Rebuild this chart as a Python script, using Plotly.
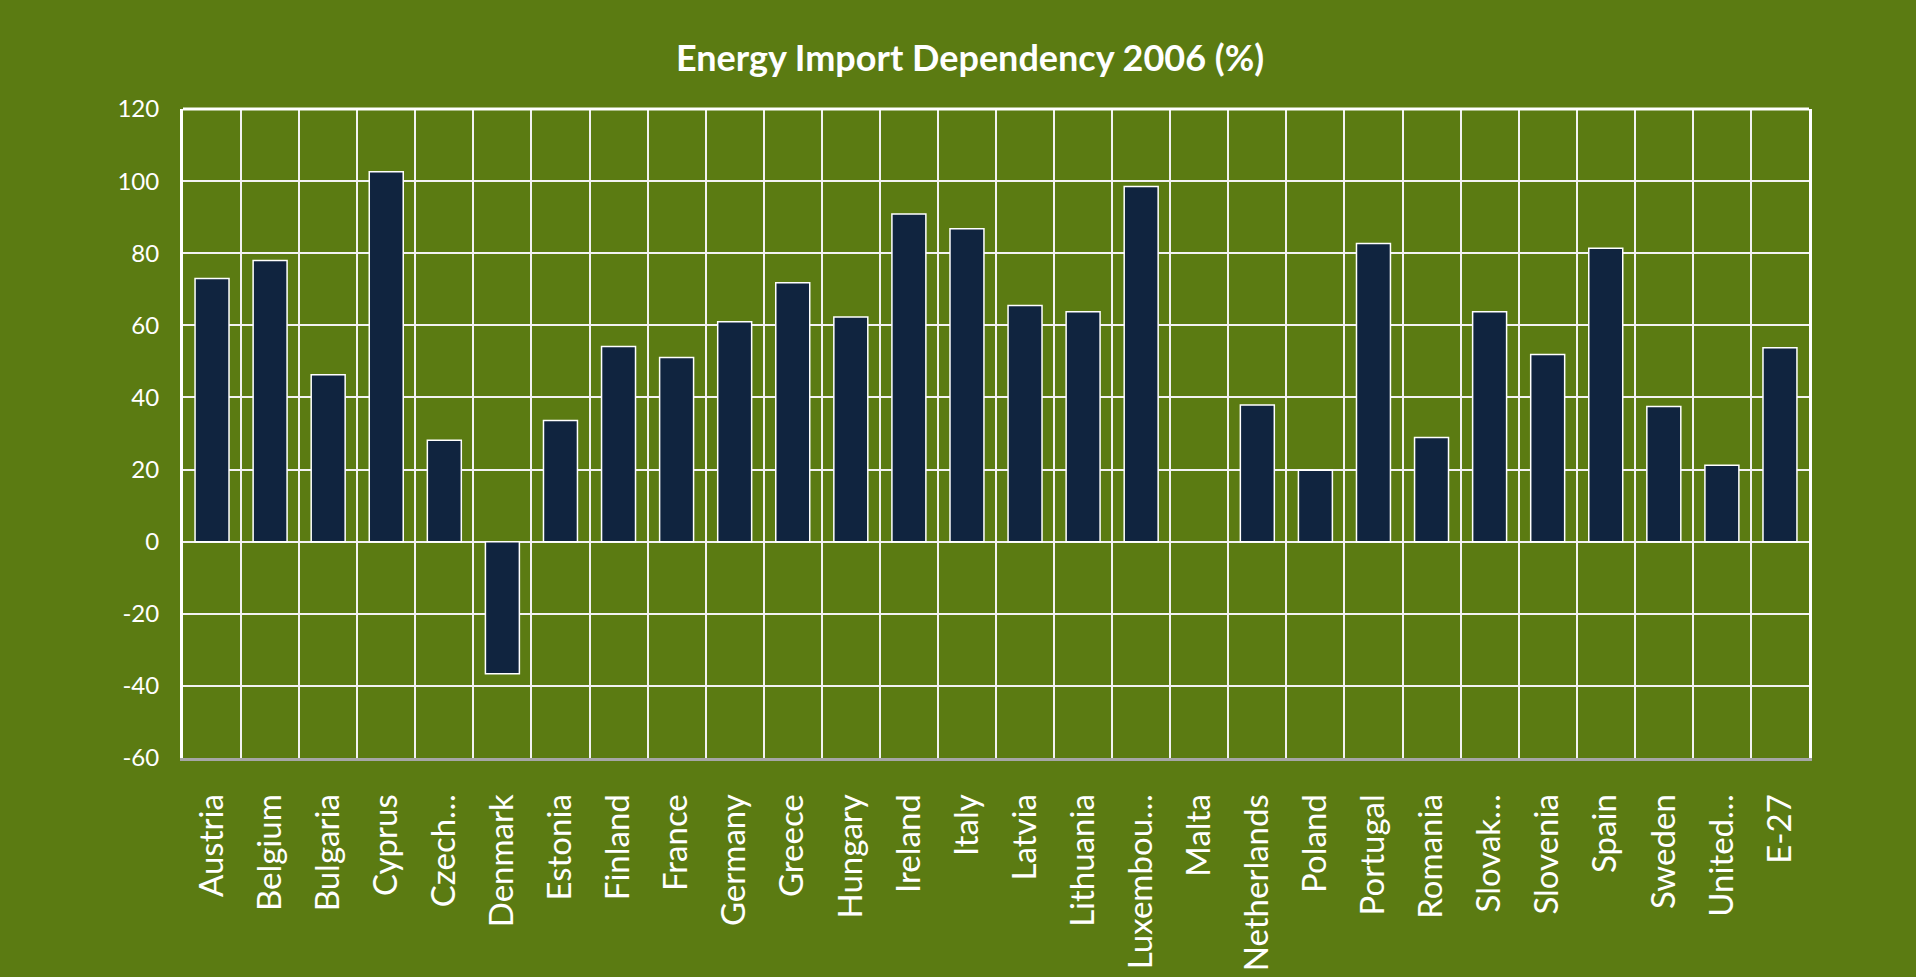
import plotly.graph_objects as go

countries = ["Austria", "Belgium", "Bulgaria", "Cyprus", "Czech…", "Denmark", "Estonia",
             "Finland", "France", "Germany", "Greece", "Hungary", "Ireland", "Italy",
             "Latvia", "Lithuania", "Luxembou…", "Malta", "Netherlands", "Poland",
             "Portugal", "Romania", "Slovak…", "Slovenia", "Spain", "Sweden",
             "United…", "E-27"]
dependency = [73.0, 78.0, 46.3, 102.6, 28.1, -36.6, 33.6,
              54.1, 51.1, 61.0, 71.8, 62.3, 90.9, 86.8,
              65.5, 63.8, 98.5, None, 37.9, 19.8,
              82.7, 28.9, 63.8, 51.9, 81.4, 37.5,
              21.2, 53.8]
y_ticks = [-60, -40, -20, 0, 20, 40, 60, 80, 100, 120]
y_tick_text = [str(v) for v in y_ticks]

BG = "#5B7B12"
BAR = "#10243F"

fig = go.Figure(go.Bar(
    x=countries, y=dependency,
    marker=dict(color=BAR, line=dict(color="#FFFFFF", width=1.5)),
    hoverinfo="x+y",
))

fig.update_layout(
    width=1916, height=977,
    paper_bgcolor=BG, plot_bgcolor=BG,
    margin=dict(l=183, r=107, t=109, b=219),
    bargap=0.415,
    showlegend=False,
    title=dict(
        text="<b>Energy Import Dependency 2006 (%)</b>",
        font=dict(family="Lato", size=36, color="#FFFFFF"),
        x=970 / 1916, xanchor="center", xref="container",
        y=1 - 58 / 977, yanchor="middle", yref="container",
    ),
    font=dict(family="Lato", color="#FFFFFF"),
)

fig.update_xaxes(
    type="category",
    tickson="boundaries",
    automargin=False,
    showgrid=True, gridcolor="#F2F2F2", gridwidth=2,
    showline=True, linecolor="#A6A6A6", linewidth=3,
    ticks="", tickangle=-90,
    tickfont=dict(family="Lato", size=33, color="#FFFFFF"),
    ticklabelstandoff=20,
)
fig.update_yaxes(
    range=[-60, 120],
    automargin=False,
    tickvals=y_ticks, ticktext=y_tick_text,
    showgrid=True, gridcolor="#F2F2F2", gridwidth=2,
    zeroline=False,
    showline=True, linecolor="#FFFFFF", linewidth=3, mirror=True,
    ticks="",
    tickfont=dict(family="Lato", size=24, color="#FFFFFF"),
    ticklabelstandoff=16,
)

fig.add_shape(type="line", xref="paper", yref="paper", x0=0, x1=1, y0=1, y1=1,
              line=dict(color="#FFFFFF", width=3))

fig.write_html(
    "out.html",
    config={"displayModeBar": False},
    post_script="document.body.style.margin='0';document.body.style.overflow='hidden';",
)
